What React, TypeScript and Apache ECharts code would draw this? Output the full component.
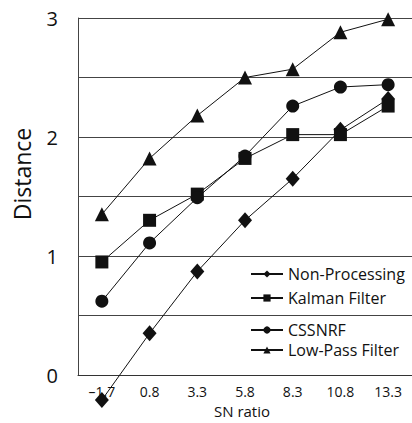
import React, { useEffect, useRef } from "react";
import * as echarts from "echarts";

const categories = ["–1.7", "0.8", "3.3", "5.8", "8.3", "10.8", "13.3"];
const nonProcessing = [-0.21, 0.35, 0.87, 1.3, 1.65, 2.06, 2.32];
const kalmanFilter = [0.95, 1.3, 1.52, 1.82, 2.02, 2.02, 2.26];
const cssnrf = [0.62, 1.11, 1.49, 1.84, 2.26, 2.42, 2.44];
const lowPassFilter = [1.35, 1.82, 2.18, 2.5, 2.57, 2.88, 2.99];

const FONT = "Open Sans";

export default function App() {
  const ref = useRef<HTMLDivElement>(null);
  useEffect(() => {
    if (!ref.current) return;
    const chart = echarts.init(ref.current, null, { renderer: "svg" });
    const mk = (name: string, data: number[], symbol: string, size: number | number[]) => ({
      name,
      type: "line",
      data,
      symbol,
      symbolSize: size,
      clip: false,
      lineStyle: { color: "#111", width: 1 },
      itemStyle: { color: "#111", borderWidth: 0 },
      emphasis: { disabled: true },
    });
    const legendText = { fontFamily: FONT, fontSize: 16, color: "#111" };
    chart.setOption({
      animation: false,
      backgroundColor: "#fff",
      grid: { left: 78, right: -12, top: 18, bottom: 48, containLabel: false },
      legend: [
        {
          data: ["Non-Processing", "Kalman Filter"],
          orient: "vertical",
          left: 245,
          top: 261,
          itemWidth: 32,
          itemHeight: 9,
          itemGap: 8,
          textStyle: legendText,
        },
        {
          data: ["CSSNRF", "Low-Pass Filter"],
          orient: "vertical",
          left: 245,
          top: 317,
          itemWidth: 32,
          itemHeight: 9,
          itemGap: 4,
          textStyle: legendText,
        },
      ],
      xAxis: {
        type: "category",
        data: categories,
        boundaryGap: true,
        axisLine: { lineStyle: { color: "#333", width: 1 } },
        axisTick: { inside: true, length: 5, lineStyle: { color: "#333" } },
        axisLabel: { fontFamily: FONT, fontSize: 14, color: "#111", margin: 9 },
        splitLine: { show: false },
      },
      yAxis: {
        type: "value",
        min: 0,
        max: 3,
        interval: 0.5,
        axisLine: { show: true, lineStyle: { color: "#444", width: 1 } },
        axisTick: { show: false },
        axisLabel: {
          fontFamily: FONT,
          fontSize: 20,
          color: "#111",
          margin: 20,
          formatter: (v: number) => (v % 1 === 0 ? String(v) : ""),
        },
        splitLine: { lineStyle: { color: "#444", width: 1 } },
      },
      graphic: [
        {
          type: "text",
          x: 22,
          y: 174,
          rotation: Math.PI / 2,
          style: {
            text: "Distance",
            fontFamily: FONT,
            fontSize: 23,
            fill: "#111",
            align: "center",
            verticalAlign: "middle",
          },
        },
        {
          type: "text",
          x: 242,
          y: 411,
          style: {
            text: "SN ratio",
            fontFamily: FONT,
            fontSize: 15,
            fill: "#111",
            align: "center",
            verticalAlign: "middle",
          },
        },
      ],
      series: [
        mk("Non-Processing", nonProcessing, "diamond", [14, 16]),
        mk("Kalman Filter", kalmanFilter, "rect", 13),
        mk("CSSNRF", cssnrf, "circle", 13),
        mk("Low-Pass Filter", lowPassFilter, "triangle", 14),
      ],
    });
    return () => chart.dispose();
  }, []);
  return (
    <div
      ref={ref}
      style={{ position: "fixed", left: 0, top: 0, width: 412, height: 423 }}
    />
  );
}
